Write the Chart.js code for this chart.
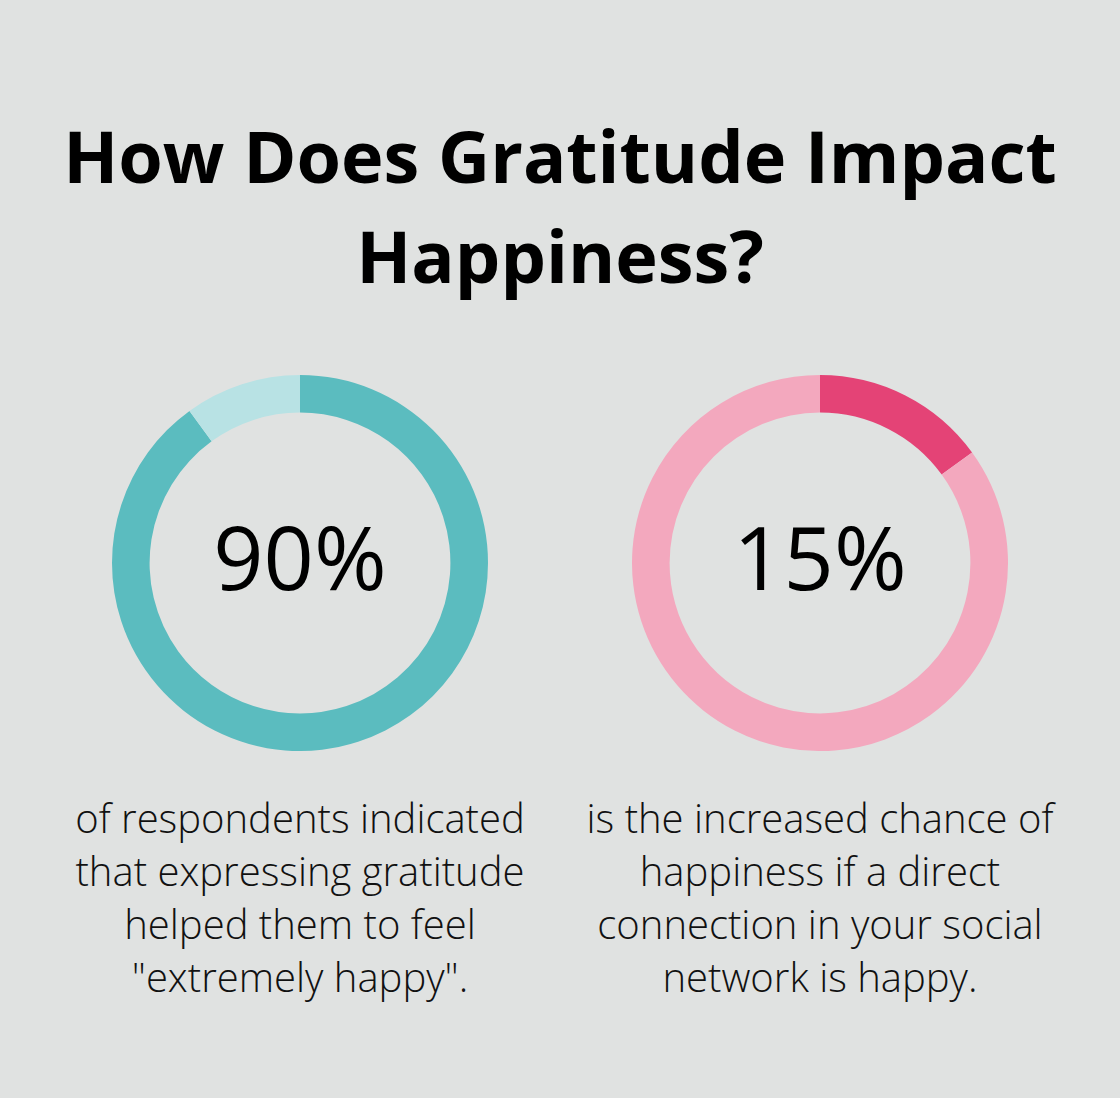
<!DOCTYPE html>
<html>
<head>
<meta charset="utf-8">
<style>
    body { margin: 0; background: #e0e2e1; width: 1120px; height: 1098px; position: relative; overflow: hidden; font-family: "Open Sans", sans-serif; }
    .title { position: absolute; left: 0; top: 105px; width: 1120px; text-align: center; font-weight: 700; font-size: 72px; line-height: 100px; color: #000; }
    .ring { position: absolute; top: 375px; width: 376px; height: 376px; }
    .num { position: absolute; top: 512px; width: 376px; text-align: center; font-size: 88px; line-height: 88px; color: #000; }
    .desc { position: absolute; top: 791px; width: 520px; text-align: center; font-weight: 300; font-size: 40px; line-height: 53px; color: #111; }
</style>
</head>
<body>
<div class="title">How Does Gratitude Impact<br>Happiness?</div>

<div class="ring" style="left:112px"><canvas id="chartLeft"></canvas></div>
<div class="ring" style="left:632px"><canvas id="chartRight"></canvas></div>

<div class="num" style="left:112px">90%</div>
<div class="num" style="left:632px">15%</div>

<div class="desc" style="left:40px">of respondents indicated<br>that expressing gratitude<br>helped them to feel<br>"extremely happy".</div>
<div class="desc" style="left:560px">is the increased chance of<br>happiness if a direct<br>connection in your social<br>network is happy.</div>

<script src="https://cdn.jsdelivr.net/npm/chart.js"></script>
<script>
    const leftLabels = ['Extremely happy', 'Other'];
    const leftValues = [90, 10];
    const rightLabels = ['Increased chance', 'Other'];
    const rightValues = [15, 85];

    function makeRing(id, labels, values, colors) {
        new Chart(document.getElementById(id), {
            type: 'doughnut',
            data: {
                labels: labels,
                datasets: [{
                    data: values,
                    backgroundColor: colors,
                    borderWidth: 0,
                    hoverOffset: 0
                }]
            },
            options: {
                responsive: true,
                maintainAspectRatio: false,
                animation: false,
                cutout: '80%',
                layout: { padding: 0 },
                plugins: {
                    legend: { display: false },
                    tooltip: { enabled: false }
                }
            }
        });
    }

    makeRing('chartLeft', leftLabels, leftValues, ['#5bbcbf', '#b8e2e4']);
    makeRing('chartRight', rightLabels, rightValues, ['#e44376', '#f3a8be']);
</script>
</body>
</html>
